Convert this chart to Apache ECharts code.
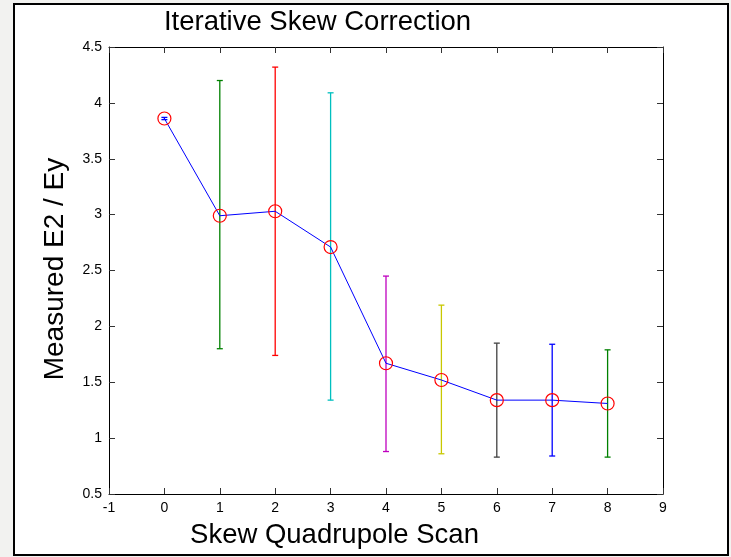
<!DOCTYPE html>
<html>
<head>
<meta charset="utf-8">
<title>Iterative Skew Correction</title>
<script src="https://cdn.jsdelivr.net/npm/echarts@6/dist/echarts.min.js"></script>
<style>
  html, body { margin: 0; padding: 0; background: #f2f2f0; }
  #chart { width: 731px; height: 557px; }
</style>
</head>
<body>
<div id="chart"></div>
<script>
// Scan steps and the measured E2/Ey ratio with its error range
const scanStep   = [0, 1, 2, 3, 4, 5, 6, 7, 8];
const meanRatio  = [3.86, 2.99, 3.03, 2.71, 1.67, 1.52, 1.34, 1.34, 1.31];
const lowerBound = [3.85, 1.80, 1.74, 1.34, 0.88, 0.86, 0.83, 0.84, 0.83];
const upperBound = [3.87, 4.20, 4.32, 4.09, 2.45, 2.19, 1.85, 1.84, 1.79];

// Axis ranges / ticks
const xTicks = { min: -1, max: 9, interval: 1 };
const yTicks = { min: 0.5, max: 4.5, interval: 0.5 };

// Classic colour order cycled by the error bars
const barColors = ['#0000ff', '#008000', '#ff0000', '#00bfbf', '#bf00bf', '#c8c800', '#404040'];

const FONT = '"Liberation Sans", Arial, sans-serif';
const chart = echarts.init(document.getElementById('chart'), null, { renderer: 'canvas' });

const gridBox = { left: 109, top: 47, right: 731 - 663, bottom: 557 - 494 };

function axisBase() {
  return {
    type: 'value',
    axisLine: { show: true, onZero: false, lineStyle: { color: '#000', width: 1 } },
    axisTick: { show: true, inside: true, length: 6, lineStyle: { color: '#333', width: 1 } },
    splitLine: { show: false }
  };
}

const errorData = scanStep.map((x, i) => [x, lowerBound[i], upperBound[i]]);
const lineData = scanStep.map((x, i) => [x, meanRatio[i]]);

chart.setOption({
  animation: false,
  backgroundColor: '#f2f2f0',
  textStyle: { fontFamily: FONT },
  grid: gridBox,
  xAxis: [
    Object.assign(axisBase(), {
      position: 'bottom', min: xTicks.min, max: xTicks.max, interval: xTicks.interval,
      axisLabel: { color: '#000', fontSize: 14, fontFamily: FONT, margin: 7 }
    }),
    Object.assign(axisBase(), {
      position: 'top', min: xTicks.min, max: xTicks.max, interval: xTicks.interval,
      axisLabel: { show: false }
    })
  ],
  yAxis: [
    Object.assign(axisBase(), {
      position: 'left', min: yTicks.min, max: yTicks.max, interval: yTicks.interval,
      axisLabel: { color: '#000', fontSize: 14, fontFamily: FONT, margin: 7 }
    }),
    Object.assign(axisBase(), {
      position: 'right', min: yTicks.min, max: yTicks.max, interval: yTicks.interval,
      axisLabel: { show: false }
    })
  ],
  graphic: [
    {
      type: 'rect', z: -10, silent: true,
      shape: { x: 14, y: 4, width: 714, height: 551 },
      style: { fill: '#ffffff', stroke: '#000000', lineWidth: 2 }
    },
    {
      type: 'text', x: 317.5, y: 22,
      style: { text: 'Iterative Skew Correction', font: '27.5px ' + FONT, fill: '#000',
               textAlign: 'center', textVerticalAlign: 'middle' }
    },
    {
      type: 'text', x: 334.5, y: 535,
      style: { text: 'Skew Quadrupole Scan', font: '27.5px ' + FONT, fill: '#000',
               textAlign: 'center', textVerticalAlign: 'middle' }
    },
    {
      type: 'text', x: 55, y: 269, rotation: Math.PI / 2,
      style: { text: 'Measured E2 / Ey', font: '28px ' + FONT, fill: '#000',
               textAlign: 'center', textVerticalAlign: 'middle' }
    }
  ],
  series: [
    {
      type: 'custom',
      name: 'error',
      data: errorData,
      encode: { x: 0, y: [1, 2] },
      z: 2,
      renderItem: function (params, api) {
        const x = api.value(0);
        const lo = api.coord([x, api.value(1)]);
        const hi = api.coord([x, api.value(2)]);
        const hw = 3;
        const style = { stroke: barColors[params.dataIndex % barColors.length], lineWidth: 1.3 };
        return {
          type: 'group',
          children: [
            { type: 'line', shape: { x1: lo[0], y1: lo[1], x2: hi[0], y2: hi[1] }, style: style },
            { type: 'line', shape: { x1: hi[0] - hw, y1: hi[1], x2: hi[0] + hw, y2: hi[1] }, style: style },
            { type: 'line', shape: { x1: lo[0] - hw, y1: lo[1], x2: lo[0] + hw, y2: lo[1] }, style: style }
          ]
        };
      }
    },
    {
      type: 'line',
      name: 'ratio',
      data: lineData,
      z: 3,
      symbol: 'circle',
      symbolSize: 13,
      showAllSymbol: true,
      lineStyle: { color: '#0000ff', width: 1 },
      itemStyle: { color: 'rgba(0,0,0,0)', borderColor: '#ff0000', borderWidth: 1.2 },
      emphasis: { disabled: true }
    }
  ]
});
</script>
</body>
</html>
